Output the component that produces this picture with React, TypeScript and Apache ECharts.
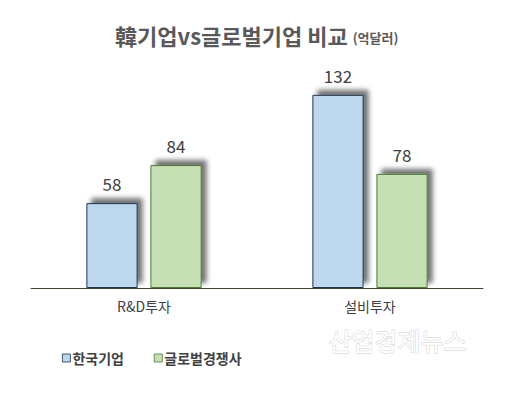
import React, { useEffect, useRef } from "react";
import * as echarts from "echarts";

const categories = ["R&D투자", "설비투자"];
const koreaValues = [58, 132];
const globalValues = [84, 78];
const seriesNames = ["한국기업", "글로벌경쟁사"];

export default function App() {
  const ref = useRef<HTMLDivElement>(null);
  useEffect(() => {
    if (!ref.current) return;
    const chart = echarts.init(ref.current, null, { renderer: "svg" });
    const font = "'Noto Sans CJK KR', 'Noto Sans', sans-serif";
    const shadow = {
      shadowBlur: 5,
      shadowColor: "rgba(0,0,0,0.55)",
      shadowOffsetX: 5,
      shadowOffsetY: -5,
    };
    const label = {
      show: true,
      position: "top" as const,
      distance: 11,
      fontSize: 17,
      color: "#404040",
      fontFamily: font,
    };
    chart.setOption({
      animation: false,
      backgroundColor: "#ffffff",
      title: {
        text: "{a|韓기업vs글로벌기업 비교} {b|(억달러)}",
        left: 110,
        top: 19,
        textStyle: {
          rich: {
            a: { fontSize: 22, fontWeight: "bold", color: "#595959", fontFamily: font },
            b: { fontSize: 13, color: "#595959", fontFamily: font, padding: [5, 0, 0, 0] },
          },
        },
      },
      legend: {
        left: 57,
        top: 346,
        icon: "rect",
        itemWidth: 8,
        itemHeight: 8,
        itemGap: 30,
        itemStyle: { borderWidth: 0.8, shadowBlur: 0, shadowOffsetX: 0, shadowOffsetY: 0 },
        textStyle: { fontSize: 14, fontWeight: "bold", color: "#404040", fontFamily: font, padding: [0, 0, 0, -3] },
        data: seriesNames,
      },
      graphic: [
        {
          type: "text",
          left: 328,
          top: 327,
          style: {
            text: "산업경제뉴스",
            fontSize: 25,
            fontFamily: font,
            fill: "#ffffff",
            stroke: "#cfcfcf",
            lineWidth: 1,
          },
        },
      ],
      grid: { left: 31, right: 31, top: 68.5, bottom: 108 },
      xAxis: {
        type: "category",
        data: categories,
        axisLine: { lineStyle: { color: "#3a4a2a", width: 1 } },
        axisTick: { show: false },
        axisLabel: { fontSize: 14, color: "#404040", fontFamily: font, margin: 11 },
      },
      yAxis: {
        type: "value",
        min: 0,
        max: 150,
        show: false,
        splitLine: { show: false },
      },
      series: [
        {
          name: seriesNames[0],
          type: "bar",
          data: koreaValues,
          barGap: "25%",
          barCategoryGap: "49%",
          itemStyle: { color: "#BDD7EE", borderColor: "#1F3550", borderWidth: 1, ...shadow },
          label,
        },
        {
          name: seriesNames[1],
          type: "bar",
          data: globalValues,
          itemStyle: { color: "#C5E0B4", borderColor: "#4E7A33", borderWidth: 1, ...shadow },
          label,
        },
      ],
    });
    return () => chart.dispose();
  }, []);
  return <div ref={ref} style={{ width: 514, height: 396, position: "absolute", left: 0, top: 0 }} />;
}
